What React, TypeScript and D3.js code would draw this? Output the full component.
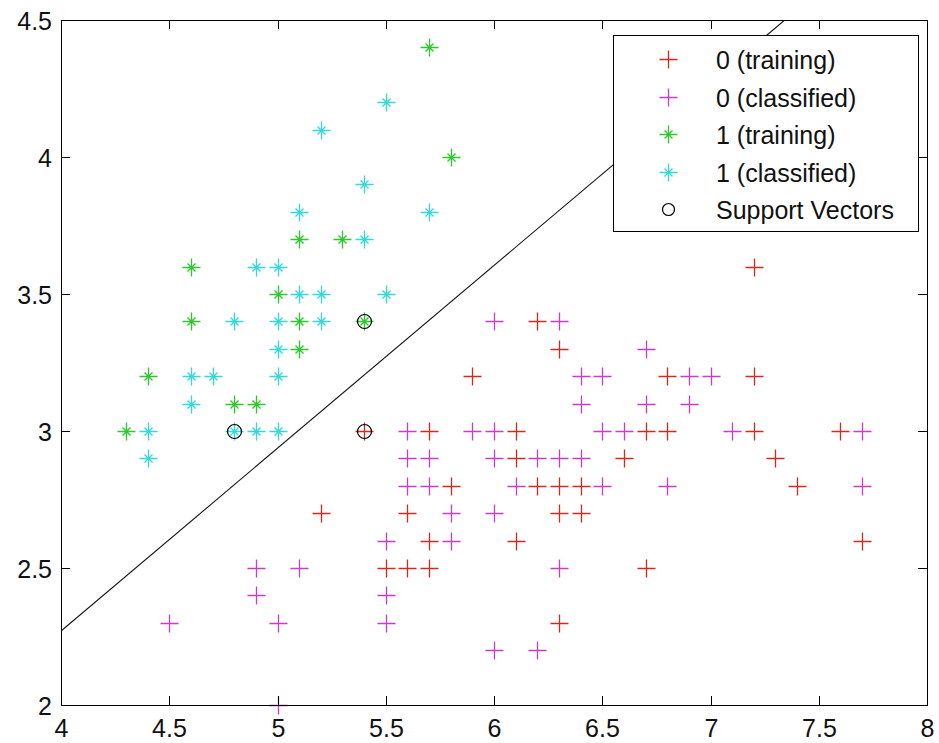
import React from "react";
import * as d3 from "d3";

const xTicks = [4, 4.5, 5, 5.5, 6, 6.5, 7, 7.5, 8];
const yTicks = [2, 2.5, 3, 3.5, 4, 4.5];

const train0X = [7.2, 6.2, 6.3, 5.9, 6.8, 7.2, 5.7, 6.1, 6.7, 6.8, 7.2, 7.6, 6.1, 6.6, 7.3, 5.8, 6.2, 6.3, 6.4, 7.4, 5.2, 5.6, 6.3, 6.4, 5.7, 6.1, 7.7, 5.5, 5.6, 5.7, 6.7, 6.3, 5.4];
const train0Y = [3.6, 3.4, 3.3, 3.2, 3.2, 3.2, 3.0, 3.0, 3.0, 3.0, 3.0, 3.0, 2.9, 2.9, 2.9, 2.8, 2.8, 2.8, 2.8, 2.8, 2.7, 2.7, 2.7, 2.7, 2.6, 2.6, 2.6, 2.5, 2.5, 2.5, 2.5, 2.3, 3.0];

const class0X = [6.0, 6.3, 6.7, 6.4, 6.5, 6.9, 7.0, 6.4, 6.7, 6.9, 5.6, 5.9, 6.0, 6.5, 6.6, 7.1, 7.7, 5.6, 5.7, 6.0, 6.2, 6.3, 6.4, 5.6, 5.7, 6.1, 6.5, 6.8, 7.7, 5.8, 6.0, 5.5, 5.8, 4.9, 5.1, 6.3, 4.9, 5.5, 4.5, 5.0, 5.5, 6.0, 6.2, 5.0];
const class0Y = [3.4, 3.4, 3.3, 3.2, 3.2, 3.2, 3.2, 3.1, 3.1, 3.1, 3.0, 3.0, 3.0, 3.0, 3.0, 3.0, 3.0, 2.9, 2.9, 2.9, 2.9, 2.9, 2.9, 2.8, 2.8, 2.8, 2.8, 2.8, 2.8, 2.7, 2.7, 2.6, 2.6, 2.5, 2.5, 2.5, 2.4, 2.4, 2.3, 2.3, 2.3, 2.2, 2.2, 2.0];

const train1X = [5.7, 5.8, 5.1, 5.3, 4.6, 5.0, 4.6, 5.1, 5.4, 5.1, 4.4, 4.8, 4.9, 4.3];
const train1Y = [4.4, 4.0, 3.7, 3.7, 3.6, 3.5, 3.4, 3.4, 3.4, 3.3, 3.2, 3.1, 3.1, 3.0];

const class1X = [5.5, 5.2, 5.4, 5.1, 5.7, 5.4, 4.9, 5.0, 5.1, 5.2, 5.5, 4.8, 5.0, 5.2, 5.0, 4.6, 4.7, 5.0, 4.6, 4.4, 4.8, 4.9, 5.0, 4.4];
const class1Y = [4.2, 4.1, 3.9, 3.8, 3.8, 3.7, 3.6, 3.6, 3.5, 3.5, 3.5, 3.4, 3.4, 3.4, 3.3, 3.2, 3.2, 3.2, 3.1, 3.0, 3.0, 3.0, 3.0, 2.9];

const svX = [4.8, 5.4, 5.4];
const svY = [3.0, 3.4, 3.0];

const boundaryX = [4.0, 7.343];
const boundaryY = [2.27, 4.5];

const legendLabels = ["0 (training)", "0 (classified)", "1 (training)", "1 (classified)", "Support Vectors"];

const RED = "#d42a1e";
const MAGENTA = "#c83cc8";
const GREEN = "#2bc92b";
const CYAN = "#35d8d8";
const FONT = "'Liberation Sans', Arial, sans-serif";

const W = 939;
const H = 743;
const L = 61, R = 927, T = 20, B = 705;

function px(v: number) {
  return Math.round(v) + 0.5;
}

function Plus({ x, y, color }: { x: number; y: number; color: string }) {
  const s = 9;
  return (
    <path d={`M${x - s},${y}H${x + s}M${x},${y - s}V${y + s}`} stroke={color} strokeWidth={1.3} fill="none" />
  );
}

function Star({ x, y, color }: { x: number; y: number; color: string }) {
  const s = 9;
  const d = 4;
  return (
    <path
      d={`M${x - s},${y}H${x + s}M${x},${y - s}V${y + s}M${x - d},${y - d}L${x + d},${y + d}M${x - d},${y + d}L${x + d},${y - d}`}
      stroke={color}
      strokeWidth={1.3}
      fill="none"
    />
  );
}

export default function App() {
  const xs = d3.scaleLinear().domain([4, 8]).range([L, R]);
  const ys = d3.scaleLinear().domain([2, 4.5]).range([B, T]);

  const line = d3
    .line<number>()
    .x((_, i) => xs(boundaryX[i]))
    .y((_, i) => ys(boundaryY[i]));

  const legX = 613, legY = 35, legW = 305, legH = 196;
  const rowY = (i: number) => 59 + i * 37.5;

  return (
    <svg
      width={W}
      height={H}
      style={{ position: "absolute", left: 0, top: 0, background: "#fff", display: "block" }}
    >
      <defs>
        <clipPath id="plotclip">
          <rect x={L} y={T} width={R - L} height={B - T} />
        </clipPath>
      </defs>
      <rect x={0} y={0} width={W} height={H} fill="#fff" />
      <g clipPath="url(#plotclip)">
        <path d={line(boundaryX) || ""} stroke="#111" strokeWidth={1.1} fill="none" />
      </g>
      <g>
        {train0X.map((x, i) => (
          <Plus key={"r" + i} x={px(xs(x))} y={px(ys(train0Y[i]))} color={RED} />
        ))}
        {class0X.map((x, i) => (
          <Plus key={"m" + i} x={px(xs(x))} y={px(ys(class0Y[i]))} color={MAGENTA} />
        ))}
        {train1X.map((x, i) => (
          <Star key={"g" + i} x={px(xs(x))} y={px(ys(train1Y[i]))} color={GREEN} />
        ))}
        {class1X.map((x, i) => (
          <Star key={"c" + i} x={px(xs(x))} y={px(ys(class1Y[i]))} color={CYAN} />
        ))}
        {svX.map((x, i) => (
          <circle key={"s" + i} cx={px(xs(x))} cy={px(ys(svY[i]))} r={7} stroke="#000" strokeWidth={1.2} fill="none" />
        ))}
      </g>
      {/* axes box */}
      <rect x={L + 0.5} y={T + 0.5} width={R - L} height={B - T} fill="none" stroke="#000" strokeWidth={1} />
      {xTicks.map((t) => {
        const x = px(xs(t));
        return (
          <g key={"xt" + t}>
            <line x1={x} x2={x} y1={B} y2={B - 9} stroke="#000" />
            <line x1={x} x2={x} y1={T} y2={T + 9} stroke="#000" />
            <text x={x} y={737} textAnchor="middle" fontFamily={FONT} fontSize={25} fill="#111">
              {String(t)}
            </text>
          </g>
        );
      })}
      {yTicks.map((t) => {
        const y = px(ys(t));
        return (
          <g key={"yt" + t}>
            <line x1={L} x2={L + 9} y1={y} y2={y} stroke="#000" />
            <line x1={R} x2={R - 9} y1={y} y2={y} stroke="#000" />
            <text x={52} y={y + 9} textAnchor="end" fontFamily={FONT} fontSize={25} fill="#111">
              {String(t)}
            </text>
          </g>
        );
      })}
      {/* legend */}
      <rect x={legX + 0.5} y={legY + 0.5} width={legW} height={legH} fill="#fff" stroke="#000" strokeWidth={1} />
      {legendLabels.map((lab, i) => {
        const y = px(rowY(i));
        const mx = 668.5;
        let marker;
        if (i === 0) marker = <Plus x={mx} y={y} color={RED} />;
        else if (i === 1) marker = <Plus x={mx} y={y} color={MAGENTA} />;
        else if (i === 2) marker = <Star x={mx} y={y} color={GREEN} />;
        else if (i === 3) marker = <Star x={mx} y={y} color={CYAN} />;
        else marker = <circle cx={mx} cy={y} r={6} stroke="#000" strokeWidth={1.2} fill="none" />;
        return (
          <g key={"lg" + i}>
            {marker}
            <text x={716} y={y + 9} fontFamily={FONT} fontSize={25} fill="#111">
              {lab}
            </text>
          </g>
        );
      })}
    </svg>
  );
}
